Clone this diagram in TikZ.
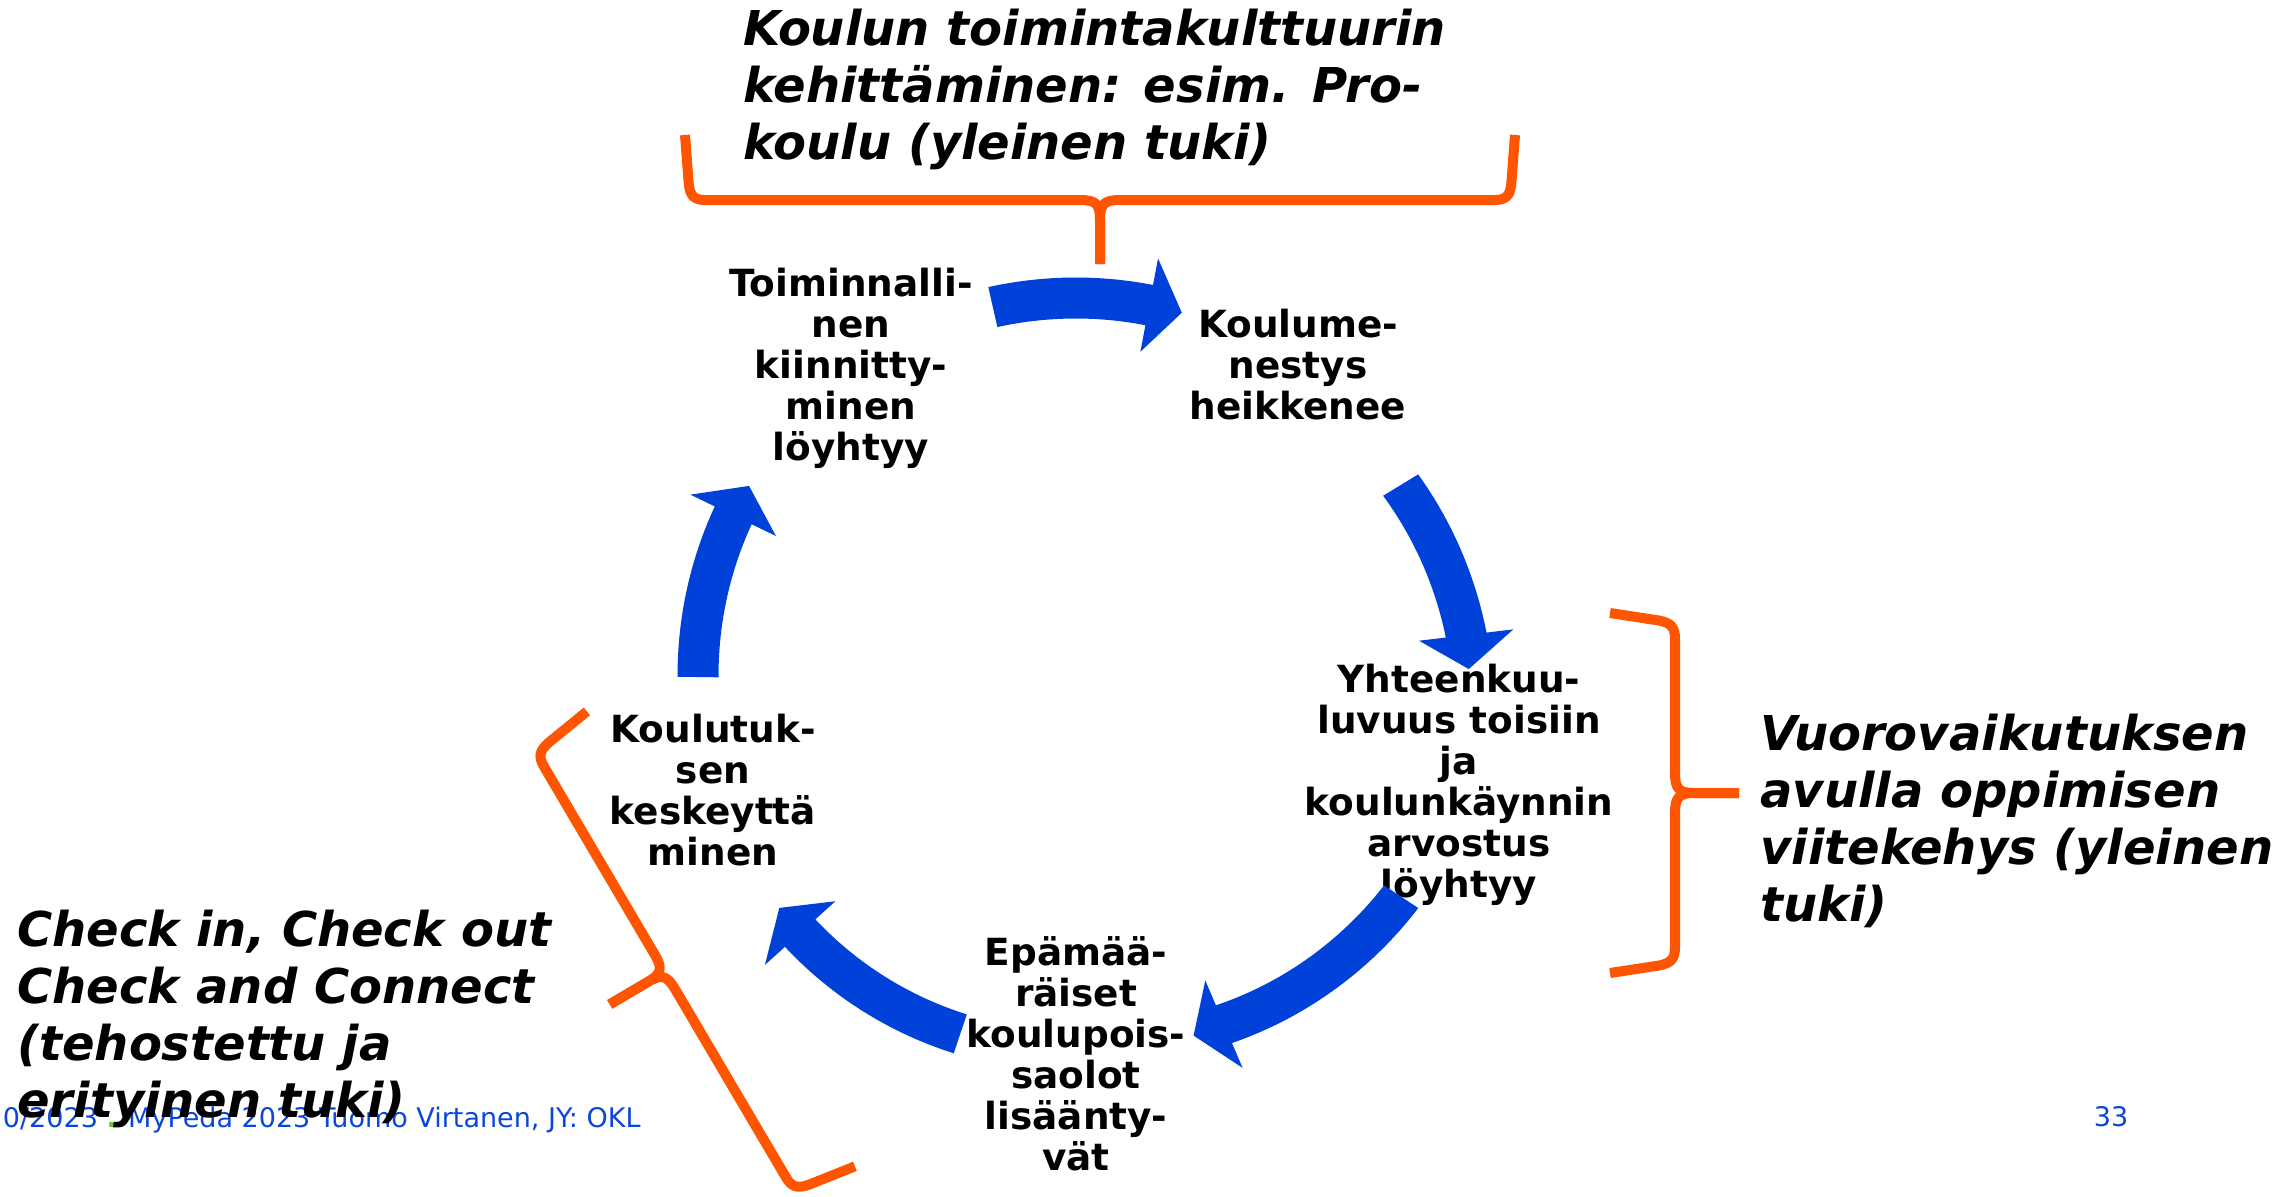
\documentclass[tikz,border=0pt]{standalone}
\usepackage{fontspec}
\setmainfont{DejaVu Sans}[BoldFont={DejaVu Sans Bold},ItalicFont={DejaVu Sans Oblique},BoldItalicFont={DejaVu Sans Bold Oblique}]
\definecolor{arrowblue}{RGB}{0,66,217}
\definecolor{braceorange}{RGB}{255,85,0}
\definecolor{footblue}{RGB}{10,70,220}
\definecolor{footgreen}{RGB}{110,200,40}
% curved block arrow around centre (1078,682): tail angle, tail radius, head angle, head radius
\newcommand\cycarrow[4]{%
  \fill[arrowblue]
    plot[domain=#1:#3, samples=40, variable=\t]
      ({1078+((#2)+((#4)-(#2))*(\t-(#1))/((#3)-(#1))+20.5)*cos(\t)},
       {682+((#2)+((#4)-(#2))*(\t-(#1))/((#3)-(#1))+20.5)*sin(\t)})
    -- ({1078+((#4)+47.5)*cos(#3)},{682+((#4)+47.5)*sin(#3)})
    -- ({1078+(#4)*cos((#3)+5)},{682+(#4)*sin((#3)+5)})
    -- ({1078+((#4)-47.5)*cos(#3)},{682+((#4)-47.5)*sin(#3)})
    -- plot[domain=#3:#1, samples=40, variable=\t]
      ({1078+((#2)+((#4)-(#2))*(\t-(#1))/((#3)-(#1))-20.5)*cos(\t)},
       {682+((#2)+((#4)-(#2))*(\t-(#1))/((#3)-(#1))-20.5)*sin(\t)})
    -- cycle;
}
% curly brace in local coordinates: spine along s from 0 to #1, tip towards +t, arm flare #2
\newcommand\bracedraw[2]{%
  \draw[brc] ({-#2},-65) -- ({-0.25*#2},-16) .. controls (0,-4) and (4,0) .. (16,0)
    -- ({#1/2-20},0) .. controls ({#1/2-4},0) and ({#1/2},4) .. ({#1/2},20) -- ({#1/2},64);
  \draw[brc] ({#1/2},64) -- ({#1/2},20) .. controls ({#1/2},4) and ({#1/2+4},0) .. ({#1/2+20},0)
    -- ({#1-16},0) .. controls ({#1-4},0) and (#1,-4) .. ({#1+0.25*#2},-16) -- ({#1+#2},-65);
}
\begin{document}
\begin{tikzpicture}[x=0.5pt,y=-0.5pt,
  cyc/.style={font=\bfseries\fontsize{18.7}{20.5}\selectfont, align=center, inner sep=0pt},
  big/.style={font=\bfseries\itshape\fontsize{24}{28.5}\selectfont, align=left, inner sep=0pt, anchor=north west},
  brc/.style={draw=braceorange, line width=5pt, line cap=butt, line join=round},
  foot/.style={font=\fontsize{13.5}{15}\selectfont, text=footblue, inner sep=0pt}]
\useasboundingbox (0,0) rectangle (2284,1196);

% footer
\node[foot, anchor=base east] (footer) at (641,1127) {0/2023 {\color{footgreen}\bfseries.} MyPeda 2023 Tuomo Virtanen, JY: OKL};
\node[foot] (pagenum) at (2111,1117) {33};

% braces
\begin{scope}[shift={(690,200)}]
  \bracedraw{820}{5}
\end{scope}
\begin{scope}[shift={(1675,623)}, rotate=-90, yscale=-1]
  \bracedraw{340}{10}
\end{scope}
\begin{scope}[shift={(536,753)}, rotate=-59.5]
  \bracedraw{508}{10}
\end{scope}

% notes
\node[big] (topnote) at (743,9) {Koulun toimintakulttuurin\\kehittäminen: esim. Pro-\\koulu (yleinen tuki)};
\node[big] (rightnote) at (1760,714) {Vuorovaikutuksen\\avulla oppimisen\\viitekehys (yleinen\\tuki)};
\node[big] (leftnote) at (17,910) {Check in, Check out\\Check and Connect\\(tehostettu ja\\erityinen tuki)};

% cycle stages
\node[cyc] (n1) at (851,368) {Toiminnalli-\\nen\\kiinnitty-\\minen\\löyhtyy};
\node[cyc] (n2) at (1298,365) {Koulume-\\nestys\\heikkenee};
\node[cyc] (n3) at (1459,785) {Yhteenkuu-\\luvuus toisiin\\ja\\koulunkäynnin\\arvostus\\löyhtyy};
\node[cyc] (n4) at (1076,1054) {Epämää-\\räiset\\koulupois-\\saolot\\lisäänty-\\vät};
\node[cyc] (n5) at (713,790) {Koulutuk-\\sen\\keskeyttä\\minen};

% arrows
\cycarrow{-102.8}{384.5}{-79.3}{383.6}
\cycarrow{-31.4}{378}{-6.9}{391}
\cycarrow{33.6}{388}{66.9}{372}
\cycarrow{108.5}{371}{137.9}{374.5}
\cycarrow{180.75}{380}{205.8}{383}
\end{tikzpicture}
\end{document}
